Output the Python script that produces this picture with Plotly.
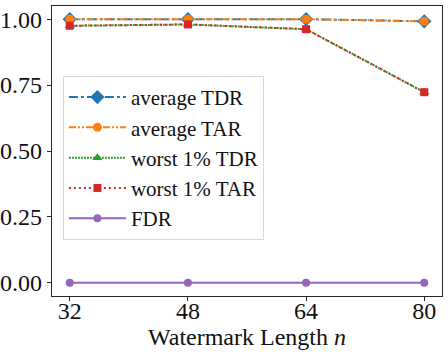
import plotly.graph_objects as go

lengths = [32, 48, 64, 80]
avg_tdr = [1.0, 1.0, 1.0, 0.992]
avg_tar = [1.0, 1.0, 1.0, 0.992]
worst_tdr = [0.975, 0.98, 0.962, 0.723]
worst_tar = [0.975, 0.98, 0.962, 0.723]
fdr = [0.0, 0.0, 0.0, 0.0]

series = [
    ("average TDR", avg_tdr, "#1f77b4", "dashdot", "diamond", 11),
    ("average TAR", avg_tar, "#ff7f0e", "7px,2px,2px,2px,2px,2px", "circle", 9),
    ("worst 1% TDR", worst_tdr, "#2ca02c", "2px,1px", "triangle-up", 9),
    ("worst 1% TAR", worst_tar, "#d62728", "2px,3px", "square", 8),
    ("FDR", fdr, "#9467bd", "solid", "circle", 8),
]

FONT = "Liberation Serif"
fig = go.Figure()
for name, vals, color, dash, sym, size in series:
    fig.add_trace(go.Scatter(
        x=lengths, y=vals, name=name, mode="lines+markers",
        line=dict(color=color, width=2, dash=dash),
        marker=dict(symbol=sym, size=size, color=color),
    ))

axis_common = dict(
    showline=True, linecolor="#262626", linewidth=1.2, mirror=True,
    ticks="outside", ticklen=4, tickcolor="#262626", showgrid=False,
    zeroline=False, automargin=False,
    tickfont=dict(family=FONT, size=24, color="#111"),
)
fig.update_xaxes(range=[29.6, 82.4], tickvals=lengths, ticktext=[str(v) for v in lengths],
                 ticklabelstandoff=-11,
                 title=dict(text="Watermark Length <i>n</i>", font=dict(family=FONT, size=24, color="#111"), standoff=0),
                 **axis_common)
fig.update_yaxes(range=[-0.05, 1.05], tickvals=[0, 0.25, 0.5, 0.75, 1.0],
                 ticktext=["0.00", "0.25", "0.50", "0.75", "1.00"], **axis_common)

fig.update_layout(
    width=448, height=356,
    margin=dict(l=52, r=6, t=6, b=60, autoexpand=False),
    plot_bgcolor="white", paper_bgcolor="white",
    font=dict(family=FONT),
    legend=dict(x=0.028, y=0.759, xanchor="left", yanchor="top",
                bgcolor="rgba(255,255,255,0.8)", bordercolor="#d9d9d9", borderwidth=1,
                font=dict(family=FONT, size=21, color="#111"), itemwidth=57),
    showlegend=True,
)
fig.write_html("out.html", config={"displayModeBar": False},
               post_script="document.body.style.margin='0';document.body.style.overflow='hidden';")
